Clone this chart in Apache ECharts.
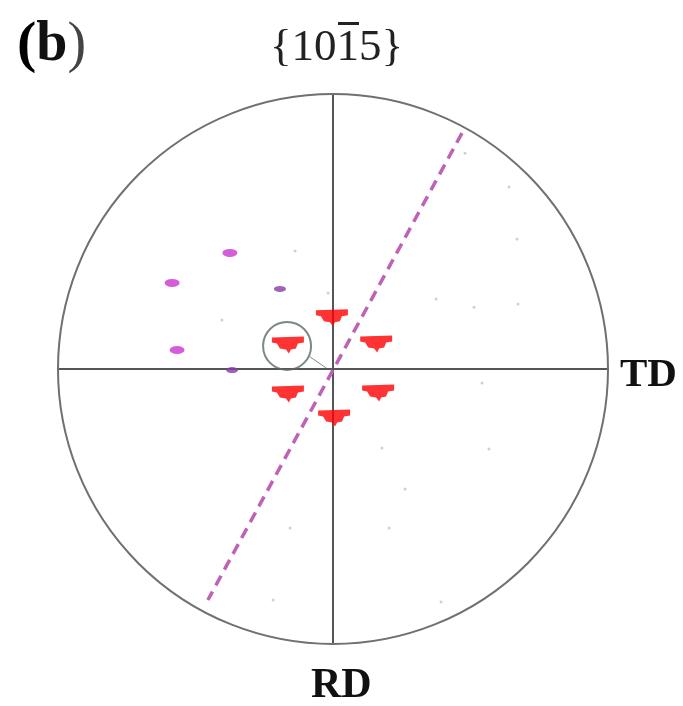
<!DOCTYPE html>
<html>
<head>
<meta charset="utf-8">
<script src="https://cdn.jsdelivr.net/npm/echarts@6/dist/echarts.min.js"></script>
<style>
html,body{margin:0;padding:0;background:#fff;}
#chart{width:683px;height:706px;}
</style>
</head>
<body>
<div id="chart"></div>
<script>
// Pole figure {10-15}; coordinates normalized to unit circle (x: TD, y: -RD)
const panelLabel = ['(', 'b', ')'];
const figTitle = '{1015}';   // third digit carries an overbar (drawn as decoration)
const axisLabels = ['TD', 'RD'];

// strong red poles
const redPoles = [
  [-0.004, 0.186],
  [-0.164, 0.087],
  [0.157, 0.091],
  [-0.164, -0.091],
  [0.164, -0.087],
  [0.004, -0.178]
];
// magenta poles
const magentaPoles = [
  [-0.375, 0.422],
  [-0.585, 0.313],
  [-0.567, 0.069]
];
// dark purple poles
const purplePoles = [
  [-0.193, 0.291],
  [-0.367, -0.004]
];
// faint grey intensity dots
const greyDots = [
  [-0.138, 0.429], [-0.018, 0.276], [-0.404, 0.178], [0.640, 0.662],
  [0.669, 0.473], [0.673, 0.236], [0.375, 0.255], [0.513, 0.225],
  [0.542, -0.051], [0.178, -0.287], [0.567, -0.291], [0.262, -0.436],
  [0.204, -0.578], [0.393, -0.847], [-0.156, -0.578], [-0.218, -0.840],
  [0.480, 0.785]
];
// dashed trace line (two ends)
const traceLine = [[0.469, 0.858], [-0.455, -0.840]];
// highlighted pole (circle) and its leader line
const highlight = [[-0.167, 0.084]];
const leader = [[-0.084, 0.044], [-0.025, 0.004]];

const chart = echarts.init(document.getElementById('chart'), null, {renderer: 'canvas'});
const serif = 'Liberation Serif';

const redPath = 'path://M0,1 L32,0 L32,6 L26,7 L24,12 L19,13 L17,17 L14,13 L8,12 L5,7 L0,6 Z';

chart.setOption({
  animation: false,
  backgroundColor: '#ffffff',
  title: [
    {
      text: '{p|' + panelLabel[0] + '}{b|' + panelLabel[1] + '}{c|' + panelLabel[2] + '}',
      left: 12, top: 12,
      textStyle: {
        fontFamily: serif, fontSize: 56,
        rich: {
          p: {fontFamily: serif, fontSize: 58, fontWeight: 900, color: '#000'},
          b: {fontFamily: serif, fontSize: 56, fontWeight: 'bold', color: '#111'},
          c: {fontFamily: serif, fontSize: 56, fontWeight: 'normal', color: '#444'}
        }
      }
    },
    {text: figTitle, left: 265, top: 21, textStyle: {fontFamily: serif, fontSize: 45, fontWeight: 'normal', color: '#222'}},
    {text: axisLabels[0], left: 615, top: 350, textStyle: {fontFamily: serif, fontSize: 41, fontWeight: 'bold', color: '#111'}},
    {text: axisLabels[1], left: 306, top: 660, textStyle: {fontFamily: serif, fontSize: 42, fontWeight: 'bold', color: '#111'}}
  ],
  graphic: [
    {type: 'rect', shape: {x: 338, y: 22, width: 21, height: 3}, style: {fill: '#222'}}
  ],
  polar: {center: [333, 369], radius: 275},
  angleAxis: {
    type: 'value', min: 0, max: 360, interval: 90, startAngle: 0,
    axisLine: {show: true, lineStyle: {color: '#707070', width: 2}},
    axisTick: {show: false}, axisLabel: {show: false},
    splitLine: {show: true, lineStyle: {color: '#555', width: 2}}
  },
  radiusAxis: {
    type: 'value', min: 0, max: 1, show: false,
    axisLine: {show: false}, splitLine: {show: false}
  },
  grid: {left: 58, top: 94, width: 550, height: 550},
  xAxis: {type: 'value', min: -1, max: 1, show: false},
  yAxis: {type: 'value', min: -1, max: 1, show: false},
  series: [
    {
      type: 'line', data: traceLine, symbol: 'none', z: 3,
      lineStyle: {color: '#bf62b6', width: 3.5, type: [11, 7]}
    },
    {
      type: 'line', data: leader, symbol: 'none', z: 3,
      lineStyle: {color: '#888', width: 1}
    },
    {
      type: 'scatter', data: greyDots, symbol: 'circle', symbolSize: 3,
      itemStyle: {color: '#c4c4c4'}
    },
    {
      type: 'scatter', data: magentaPoles, symbol: 'circle', symbolSize: [15, 8],
      itemStyle: {color: '#cc33d0'}
    },
    {
      type: 'scatter', data: purplePoles, symbol: 'circle', symbolSize: [12, 6],
      itemStyle: {color: '#8a3aa8'}
    },
    {
      type: 'scatter', data: redPoles, symbol: redPath, symbolSize: [32, 17], z: 4,
      itemStyle: {color: '#ff0000'}
    },
    {
      type: 'scatter', data: highlight, symbol: 'circle', symbolSize: 48, z: 5,
      itemStyle: {color: 'rgba(0,0,0,0)', borderColor: '#5a6a66', borderWidth: 2}
    }
  ]
});
</script>
</body>
</html>
